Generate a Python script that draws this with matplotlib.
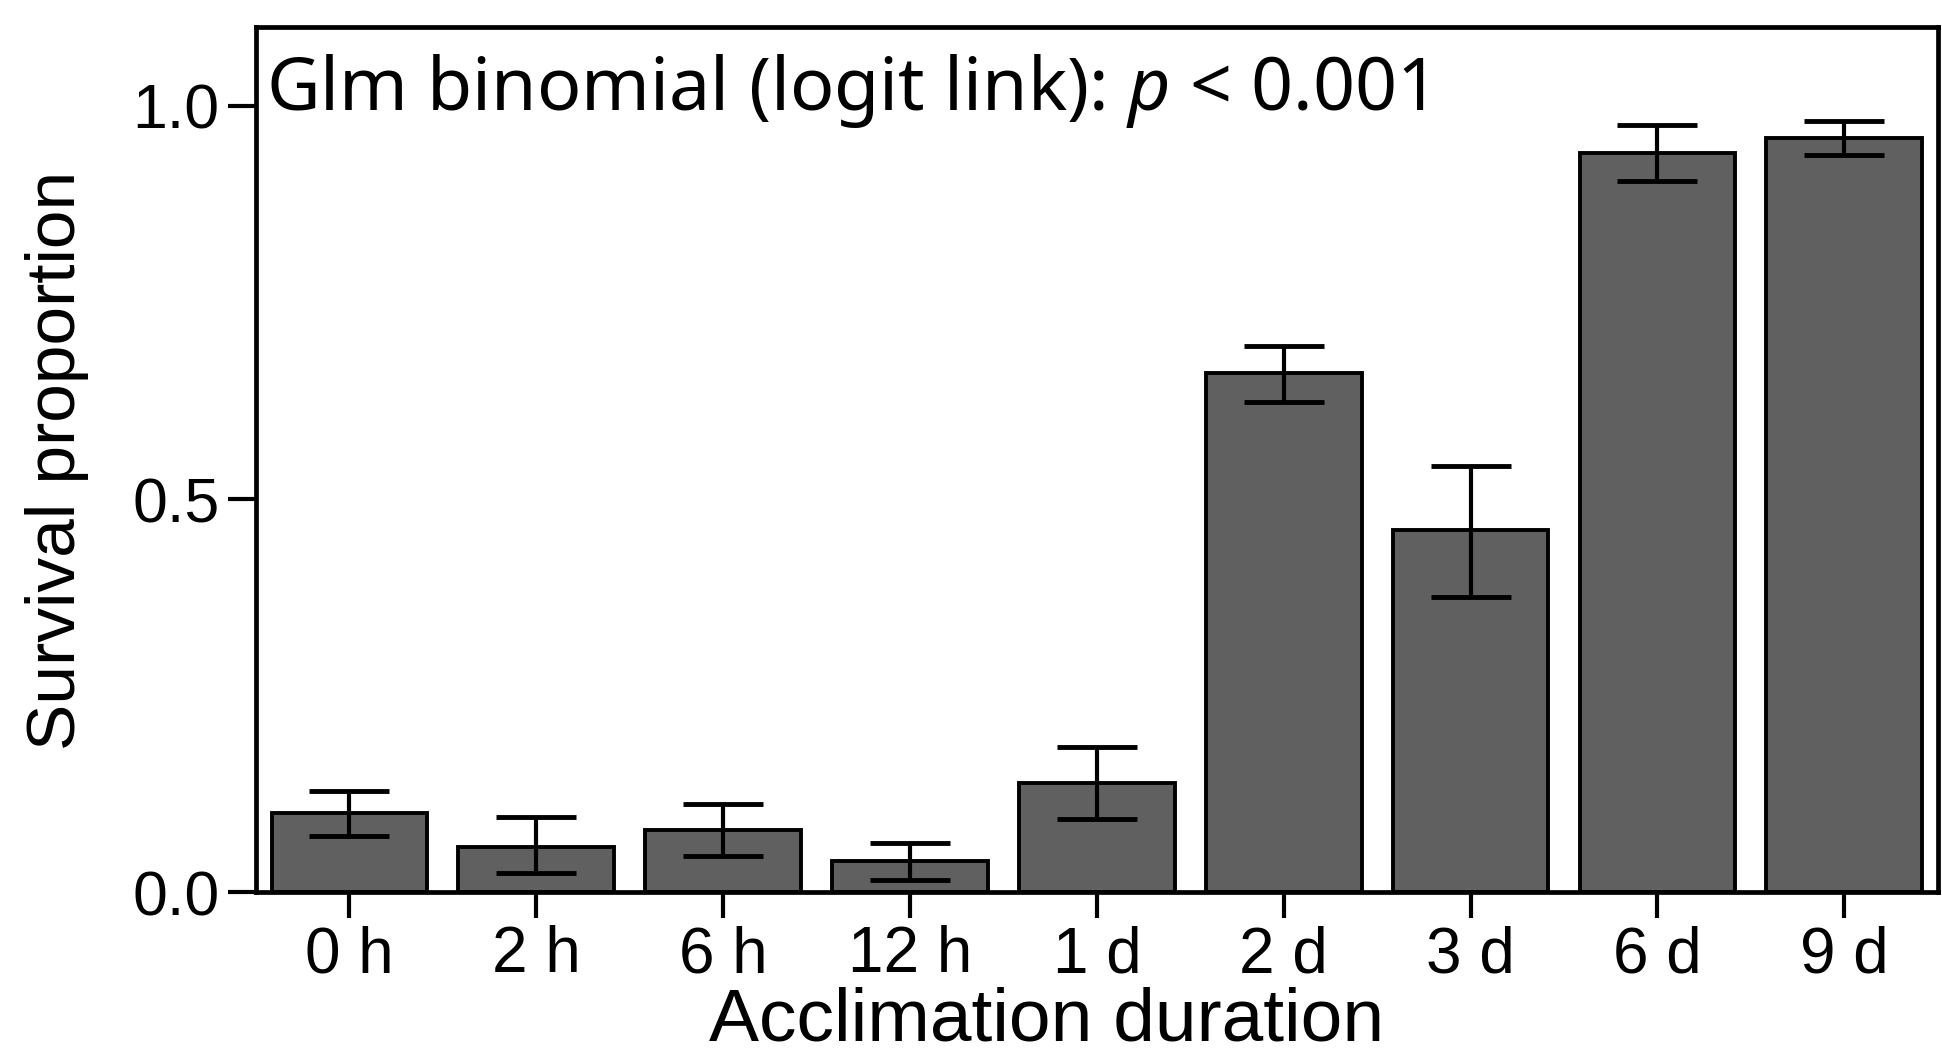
import matplotlib
matplotlib.use('Agg')
import matplotlib.pyplot as plt
import numpy as np

# survival proportion per acclimation duration
labels = ['0 h', '2 h', '6 h', '12 h', '1 d', '2 d', '3 d', '6 d', '9 d']
survival = [0.100, 0.058, 0.079, 0.039, 0.139, 0.660, 0.460, 0.940, 0.959]
err_low = [0.071, 0.024, 0.046, 0.016, 0.093, 0.624, 0.376, 0.904, 0.937]
err_high = [0.128, 0.095, 0.112, 0.062, 0.185, 0.695, 0.542, 0.976, 0.981]

plt.rcParams['font.family'] = ['Liberation Sans', 'DejaVu Sans']
plt.rcParams['mathtext.fontset'] = 'custom'
plt.rcParams['mathtext.rm'] = 'Noto Sans'
plt.rcParams['mathtext.it'] = 'Noto Sans:italic'

fig = plt.figure(figsize=(19.42, 10.52), dpi=100)
ax = fig.add_axes([0.1318, 0.152, 0.866, 0.822])

# R barplot style positions: width 1, space 0.2
x = 0.7 + 1.2 * np.arange(len(labels))
surv = np.array(survival)
yerr = np.array([surv - np.array(err_low), np.array(err_high) - surv])

ax.bar(x, surv, width=1.0, color='#606060', edgecolor='black', linewidth=2.8, zorder=2)
ax.errorbar(x, surv, yerr=yerr, fmt='none', ecolor='black', elinewidth=3,
            capsize=29, capthick=3.5, zorder=3)

ax.set_xlim(0.1, 10.9)
ax.set_ylim(0, 1.1)
ax.set_yticks([0.0, 0.5, 1.0])
ax.set_yticklabels(['0.0', '0.5', '1.0'])
ax.set_xticks(x)
ax.set_xticklabels(labels)

for s in ax.spines.values():
    s.set_linewidth(3.4)

ax.tick_params(axis='y', direction='out', length=20, width=3, pad=6, labelsize=45)
ax.tick_params(axis='x', direction='out', length=19, width=3, pad=5, labelsize=46)

fig.text(0.5388, 0.0114, 'Acclimation duration', ha='center', va='baseline', fontsize=54)
fig.text(0.013, 0.562, 'Survival proportion', rotation=90, ha='left', va='center', fontsize=50)

ax.text(0.006, 0.905, 'Glm binomial (logit link): $p$ < 0.001', transform=ax.transAxes,
        ha='left', va='baseline', fontsize=53, family='Noto Sans')

fig.savefig('out.png', dpi=100)
